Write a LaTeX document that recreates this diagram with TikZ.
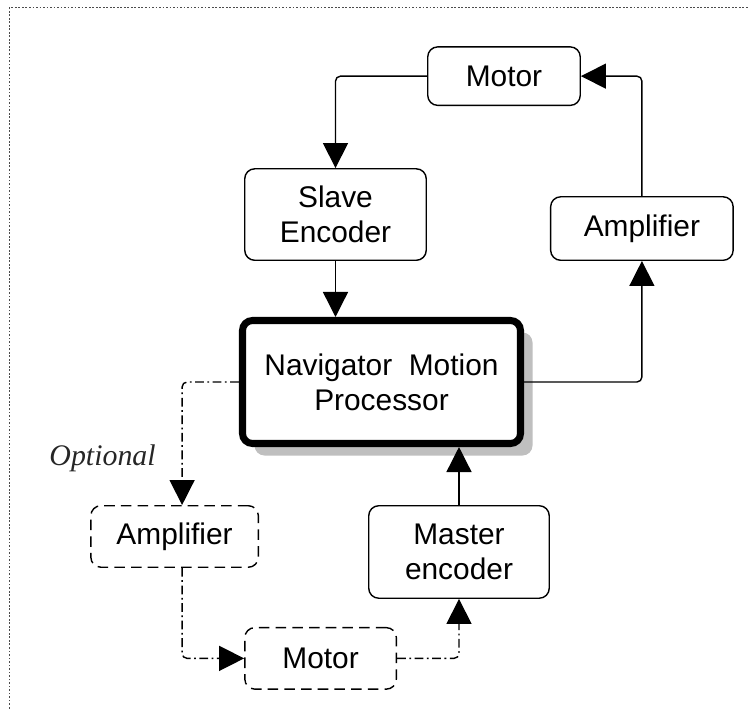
\documentclass[tikz,border=0pt]{standalone}
\usepackage{fontspec}
\setmainfont{Liberation Sans}
\newfontfamily\optfont{Liberation Serif}
\usetikzlibrary{positioning, arrows.meta, shadows}

\begin{document}
\begin{tikzpicture}[
    node distance = 1.15cm,
    blk/.style={
        draw, rectangle, rounded corners=.2cm, line width=.8pt, align=center,
        inner sep=2pt, font=\fontsize{17}{20}\selectfont
    },
    optblk/.style={
        blk, dash pattern=on 6pt off 3.5pt
    },
    mpu/.style={
        blk, line width=4pt, fill=white, minimum width=5.56cm, minimum height=2.46cm,
        drop shadow={shadow xshift=.24cm, shadow yshift=-.24cm, fill=black!25, opacity=1}
    },
    arr/.style={
        line width=.8pt, rounded corners=.1cm, -{Triangle[length=.5cm, width=.5cm]}
    },
    optarr/.style={
        arr, dash pattern=on 5pt off 2pt on 1pt off 2pt
    },
    frame/.style={
        draw=black!70, line width=1pt, dash pattern=on 1pt off 1pt
    },
]

    \useasboundingbox (-7.63,-6.52) rectangle (7.33,7.64);
    \draw[frame] (-7.44,-6.6) |- (7.4,7.49);

    \node[mpu](nav){Navigator\ \ Motion\\Processor};
    \node[blk,minimum width=3.63cm,minimum height=1.83cm,above=1.12cm of nav,xshift=-.92cm](slave){Slave\\Encoder};
    \node[blk,minimum width=3.05cm,minimum height=1.17cm,above=1.24cm of slave,xshift=3.37cm](mot1){Motor};
    \node[blk,minimum width=3.65cm,minimum height=1.27cm,right=2.46cm of slave,yshift=-.28cm](amp1){Amplifier};
    \node[blk,minimum width=3.61cm,minimum height=1.85cm,below=1.16cm of nav,xshift=1.55cm](master){Master\\encoder};
    \node[optblk,minimum width=3.35cm,minimum height=1.23cm,left=2.18cm of master,yshift=.31cm](amp2){Amplifier};
    \node[optblk,minimum width=3.03cm,minimum height=1.23cm,below=1.18cm of amp2,xshift=2.92cm](mot2){Motor};
    \node[text=black!85, font=\optfont\itshape\fontsize{17}{20}\selectfont] (opt) at ([xshift=-1.44cm, yshift=1.57cm]amp2) {Optional};

    \draw[arr] (mot1.west) -| (slave.north);
    \draw[arr] (slave.south) -- (slave.south |- nav.north);
    \draw[arr] (nav.east) -| (amp1.south);
    \draw[arr] (amp1.north) |- (mot1.east);
    \draw[arr] (master.north) -- (master.north |- nav.south);

    % optional path
    \draw[optarr] (nav.west) -| ([xshift=.15cm]amp2.north);
    \draw[optarr] ([xshift=.15cm]amp2.south) |- (mot2.west);
    \draw[optarr] (mot2.east) -| (master.south);

\end{tikzpicture}
\end{document}
